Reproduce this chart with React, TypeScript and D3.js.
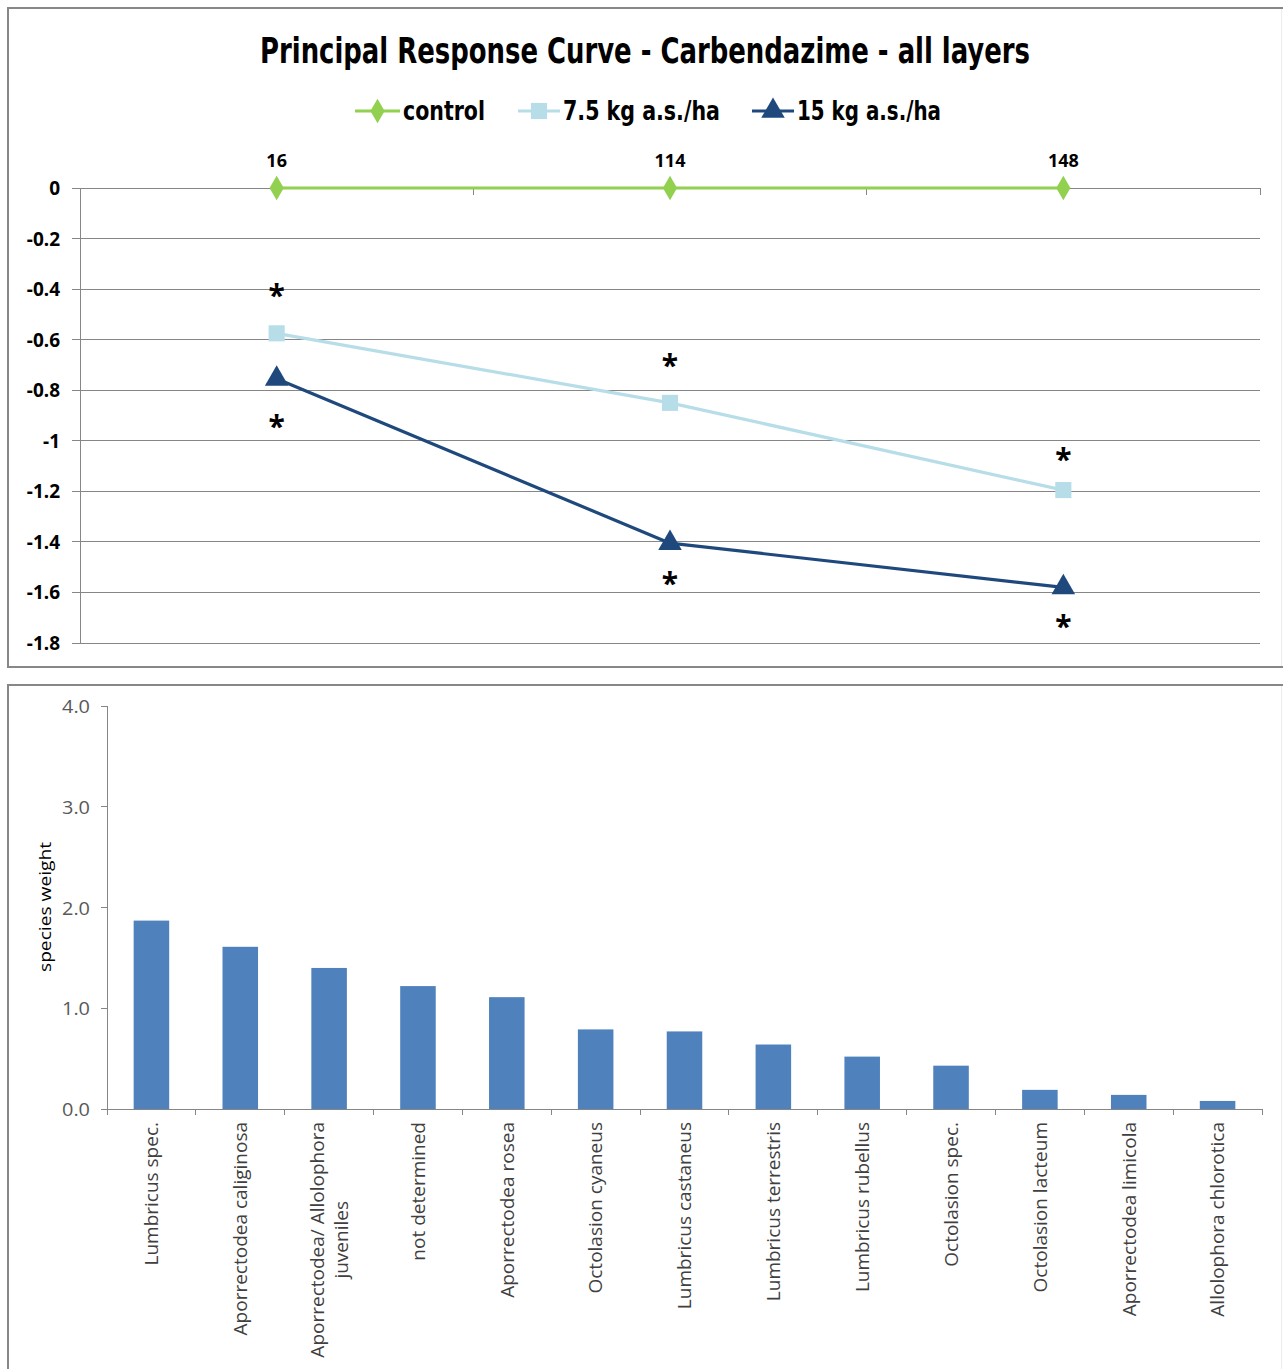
import React, { useEffect, useRef } from "react";
import * as d3 from "d3";

// ---------- data: Principal Response Curve ----------
const weeks = ["16", "114", "148"];
const controlValues = [0, 0, 0];
const lowDoseValues = [-0.575, -0.85, -1.195];
const highDoseValues = [-0.755, -1.405, -1.58];
const asteriskAbove = [-0.41, -0.69, -1.06];
const asteriskBelow = [-0.93, -1.55, -1.72];
const prcTicks = [0, -0.2, -0.4, -0.6, -0.8, -1, -1.2, -1.4, -1.6, -1.8];
const seriesNames = ["control", "7.5 kg a.s./ha", "15 kg a.s./ha"];

// ---------- data: species weights ----------
const species = [
  "Lumbricus spec.",
  "Aporrectodea caliginosa",
  "Aporrectodea/ Allolophora|juveniles",
  "not determined",
  "Aporrectodea rosea",
  "Octolasion cyaneus",
  "Lumbricus castaneus",
  "Lumbricus terrestris",
  "Lumbricus rubellus",
  "Octolasion spec.",
  "Octolasion lacteum",
  "Aporrectodea limicola",
  "Allolophora chlorotica",
];
const speciesWeights = [1.87, 1.61, 1.4, 1.22, 1.11, 0.79, 0.77, 0.64, 0.52, 0.43, 0.19, 0.14, 0.08];
const weightTicks = [0, 1, 2, 3, 4];

const GREEN = "#92D050";
const LIGHT = "#B7DEE8";
const DARK = "#1F497D";
const BAR = "#4F81BD";
const GRID = "#868686";
const COND = "'DejaVu Sans Condensed', 'Liberation Sans Narrow', sans-serif";
const BOLD = "'Noto Sans', 'Open Sans', sans-serif";
const LIGHTFONT = "'Open Sans', 'Noto Sans', sans-serif";

export default function App() {
  const ref = useRef<SVGSVGElement | null>(null);

  useEffect(() => {
    const svg = d3.select(ref.current);
    svg.selectAll("*").remove();

    // ---------- panel borders ----------
    const borders = svg.append("g");
    borders.append("path").attr("d", "M1283,8 H8 V667 H1283").attr("fill", "none").attr("stroke", "#878787").attr("stroke-width", 2);
    borders.append("line").attr("x1", 1281.5).attr("x2", 1281.5).attr("y1", 9).attr("y2", 666).attr("stroke", "#ececec");
    borders.append("path").attr("d", "M1283,685 H8 V1369").attr("fill", "none").attr("stroke", "#878787").attr("stroke-width", 2);
    borders.append("line").attr("x1", 1281.5).attr("x2", 1281.5).attr("y1", 686).attr("y2", 1369).attr("stroke", "#ececec");

    // ---------- top chart ----------
    const top = svg.append("g");
    const x0 = 80, x1 = 1260;
    const xBand = d3.scaleBand<string>().domain(weeks).range([x0, x1]).padding(0);
    const xPt = d3.scalePoint<string>().domain(weeks).range([x0, x1]).padding(0.5);
    const y = d3.scaleLinear().domain([-1.8, 0]).range([643, 188]);

    top.append("text")
      .attr("x", 645).attr("y", 63)
      .attr("text-anchor", "middle")
      .attr("font-family", COND).attr("font-weight", "bold").attr("font-size", 35)
      .attr("textLength", 770).attr("lengthAdjust", "spacingAndGlyphs")
      .text("Principal Response Curve - Carbendazime - all layers");

    // grid lines
    top.selectAll("line.grid").data(prcTicks).enter().append("line")
      .attr("x1", x0 - 8).attr("x2", x1)
      .attr("y1", (d) => y(d)).attr("y2", (d) => y(d))
      .attr("stroke", GRID).attr("stroke-width", 1).attr("shape-rendering", "crispEdges");
    top.append("line").attr("x1", x0).attr("x2", x0).attr("y1", y(0)).attr("y2", y(-1.8))
      .attr("stroke", GRID).attr("shape-rendering", "crispEdges");
    // category ticks
    const bounds = weeks.map((w) => (xBand(w) as number) + xBand.bandwidth());
    top.selectAll("line.ctick").data(bounds).enter().append("line")
      .attr("x1", (d) => d).attr("x2", (d) => d).attr("y1", y(0)).attr("y2", y(0) + 7)
      .attr("stroke", GRID).attr("shape-rendering", "crispEdges");

    top.selectAll("text.ylab").data(prcTicks).enter().append("text")
      .attr("x", 60).attr("y", (d) => y(d) + 7)
      .attr("text-anchor", "end")
      .attr("font-family", BOLD).attr("font-weight", "bold").attr("font-size", 19)
      .text((d) => String(+d.toFixed(1)));

    top.selectAll("text.xlab").data(weeks).enter().append("text")
      .attr("x", (d) => xPt(d) as number).attr("y", 167)
      .attr("text-anchor", "middle")
      .attr("font-family", BOLD).attr("font-weight", "bold").attr("font-size", 18)
      .text((d) => d);

    const line = d3.line<number>().x((_, i) => xPt(weeks[i]) as number).y((d) => y(d));
    const diamond = d3.symbol().type(d3.symbolDiamond).size(175);
    const square = d3.symbol().type(d3.symbolSquare).size(260);
    const tri = d3.symbol().type(d3.symbolTriangle).size(240);

    const series = [
      { vals: controlValues, color: GREEN, sym: diamond },
      { vals: lowDoseValues, color: LIGHT, sym: square },
      { vals: highDoseValues, color: DARK, sym: tri },
    ];
    series.forEach((s) => {
      top.append("path").attr("d", line(s.vals) as string).attr("fill", "none")
        .attr("stroke", s.color).attr("stroke-width", 3.2).attr("stroke-linejoin", "round");
      top.selectAll(null).data(s.vals).enter().append("path")
        .attr("transform", (d, i) => `translate(${xPt(weeks[i])},${y(d)})`)
        .attr("d", s.sym() as string).attr("fill", s.color);
    });

    const stars = [...asteriskAbove, ...asteriskBelow];
    top.selectAll("text.star").data(stars).enter().append("text")
      .attr("x", (_, i) => xPt(weeks[i % 3]) as number)
      .attr("y", (d) => y(d) + 14)
      .attr("text-anchor", "middle")
      .attr("font-family", BOLD).attr("font-weight", "bold").attr("font-size", 30)
      .text("*");

    // legend
    const legendItems = [
      { lx: 355, tx: 403, tw: 82, ...series[0] },
      { lx: 518, tx: 563, tw: 157, ...series[1] },
      { lx: 752, tx: 797, tw: 144, ...series[2] },
    ];
    legendItems.forEach((it, i) => {
      const g = top.append("g");
      g.append("line").attr("x1", it.lx).attr("x2", it.tx - 3).attr("y1", 111).attr("y2", 111)
        .attr("stroke", it.color).attr("stroke-width", 3.2);
      g.append("path").attr("transform", `translate(${(it.lx + it.tx - 3) / 2},111)`)
        .attr("d", it.sym() as string).attr("fill", it.color);
      g.append("text").attr("x", it.tx).attr("y", 120)
        .attr("font-family", COND).attr("font-weight", "bold").attr("font-size", 26)
        .attr("textLength", it.tw).attr("lengthAdjust", "spacingAndGlyphs")
        .text(seriesNames[i]);
    });

    // ---------- bottom chart ----------
    const bot = svg.append("g");
    const bx0 = 107, bx1 = 1262;
    const bx = d3.scaleBand<string>().domain(species).range([bx0, bx1]).paddingInner(0.6).paddingOuter(0.3);
    const by = d3.scaleLinear().domain([0, 4]).range([1109, 706]);
    const step = bx.step();

    bot.append("line").attr("x1", bx0).attr("x2", bx0).attr("y1", by(4)).attr("y2", by(0))
      .attr("stroke", GRID).attr("shape-rendering", "crispEdges");
    bot.selectAll("line.yt").data(weightTicks).enter().append("line")
      .attr("x1", bx0 - 6).attr("x2", bx0).attr("y1", (d) => by(d)).attr("y2", (d) => by(d))
      .attr("stroke", GRID).attr("shape-rendering", "crispEdges");
    bot.selectAll("text.yl").data(weightTicks).enter().append("text")
      .attr("x", 90).attr("y", (d) => by(d) + 7)
      .attr("text-anchor", "end")
      .attr("font-family", LIGHTFONT).attr("font-size", 19).attr("fill", "#595959")
      .attr("textLength", 28).attr("lengthAdjust", "spacingAndGlyphs")
      .text((d) => d3.format(".1f")(d));

    bot.append("text")
      .attr("transform", "translate(51,907) rotate(-90)")
      .attr("text-anchor", "middle")
      .attr("font-family", LIGHTFONT).attr("font-size", 16).attr("fill", "#000")
      .attr("textLength", 130).attr("lengthAdjust", "spacingAndGlyphs")
      .text("species weight");

    bot.selectAll("rect.bar").data(speciesWeights).enter().append("rect")
      .attr("x", (_, i) => bx(species[i]) as number)
      .attr("width", bx.bandwidth())
      .attr("y", (d) => by(d))
      .attr("height", (d) => by(0) - by(d))
      .attr("fill", BAR);

    bot.append("line").attr("x1", bx0).attr("x2", bx1).attr("y1", by(0)).attr("y2", by(0))
      .attr("stroke", GRID).attr("shape-rendering", "crispEdges");
    const cb = d3.range(species.length + 1).map((i) => bx0 + i * step);
    bot.selectAll("line.xt").data(cb).enter().append("line")
      .attr("x1", (d) => d).attr("x2", (d) => d).attr("y1", by(0)).attr("y2", by(0) + 6)
      .attr("stroke", GRID).attr("shape-rendering", "crispEdges");

    species.forEach((name) => {
      const cx = (bx(name) as number) + bx.bandwidth() / 2;
      const lines = name.split("|");
      const g = bot.append("g").attr("transform", `translate(${cx},1122) rotate(-90)`);
      const lh = 24;
      const off = -((lines.length - 1) * lh) / 2;
      const first = g.append("text")
        .attr("x", 0).attr("y", off).attr("dy", "0.36em")
        .attr("text-anchor", "end")
        .attr("font-family", LIGHTFONT).attr("font-size", 19).attr("fill", "#404040")
        .text(lines[0]);
      const len1 = (first.node() as SVGTextElement).getComputedTextLength();
      for (let k = 1; k < lines.length; k++) {
        g.append("text")
          .attr("x", -len1 / 2).attr("y", off + k * lh).attr("dy", "0.36em")
          .attr("text-anchor", "middle")
          .attr("font-family", LIGHTFONT).attr("font-size", 19).attr("fill", "#404040")
          .text(lines[k]);
      }
    });
  }, []);

  return (
    <svg
      ref={ref}
      width={1283}
      height={1369}
      style={{ position: "absolute", left: 0, top: 0, background: "#fff" }}
    />
  );
}
